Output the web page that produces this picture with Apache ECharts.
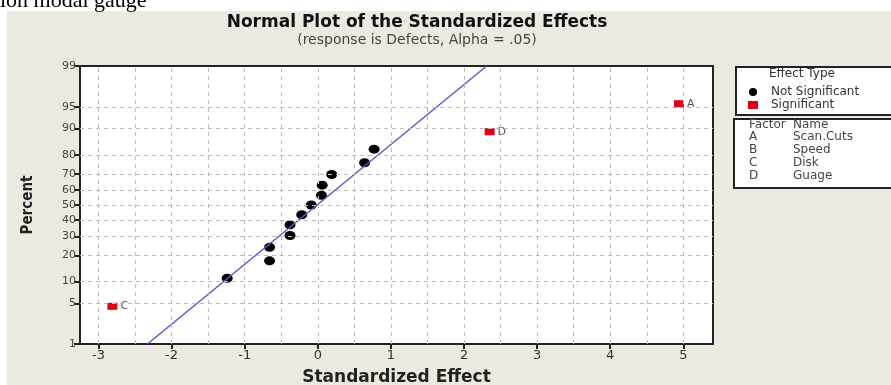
<!DOCTYPE html>
<html>
<head>
<meta charset="utf-8">
<script src="https://cdn.jsdelivr.net/npm/echarts@6/dist/echarts.min.js"></script>
<style>
  html, body { margin: 0; padding: 0; background: #fff; }
  #chart { width: 891px; height: 385px; }
</style>
</head>
<body>
<div id="chart"></div>
<script>
// effects (x = standardized effect, y = percent)
var notSigX = [-1.24, -0.66, -0.66, -0.38, -0.38, -0.22, -0.09, 0.05, 0.06, 0.19, 0.64, 0.77];
var notSigPct = [11.0, 17.5, 24.0, 30.5, 37.0, 43.5, 50.0, 56.5, 63.0, 69.5, 76.0, 82.5];
var sigX = [-2.81, 2.35, 4.94];
var sigPct = [4.5, 89.0, 95.5];
var sigLabels = ['C', 'D', 'A'];
// reference line end points
var lineX = [-2.33, 2.31];
var linePct = [1, 99];
// axis ticks
var xTicks = [-3, -2, -1, 0, 1, 2, 3, 4, 5];
var xGrid = [-3, -2.5, -2, -1.5, -1, -0.5, 0, 0.5, 1, 1.5, 2, 2.5, 3, 3.5, 4, 4.5, 5];
var pctTicks = [1, 5, 10, 20, 30, 40, 50, 60, 70, 80, 90, 95, 99];
// legend table
var factorCodes = ['A', 'B', 'C', 'D'];
var factorNames = ['Scan.Cuts', 'Speed', 'Disk', 'Guage'];

// inverse normal cdf (probability scale for the y axis)
function probit(p) {
  var a = [-3.969683028665376e+01, 2.209460984245205e+02, -2.759285104469687e+02, 1.383577518672690e+02, -3.066479806614716e+01, 2.506628277459239e+00];
  var b = [-5.447609879822406e+01, 1.615858368580409e+02, -1.556989798598866e+02, 6.680131188771972e+01, -1.328068155288572e+01];
  var c = [-7.784894002430293e-03, -3.223964580411365e-01, -2.400758277161838e+00, -2.549732539343734e+00, 4.374664141464968e+00, 2.938163982698783e+00];
  var d = [7.784695709041462e-03, 3.224671290700398e-01, 2.445134137142996e+00, 3.754408661907416e+00];
  var pl = 0.02425, q, r;
  if (p < pl) {
    q = Math.sqrt(-2 * Math.log(p));
    return (((((c[0]*q+c[1])*q+c[2])*q+c[3])*q+c[4])*q+c[5]) / ((((d[0]*q+d[1])*q+d[2])*q+d[3])*q+1);
  }
  if (p > 1 - pl) {
    q = Math.sqrt(-2 * Math.log(1 - p));
    return -(((((c[0]*q+c[1])*q+c[2])*q+c[3])*q+c[4])*q+c[5]) / ((((d[0]*q+d[1])*q+d[2])*q+d[3])*q+1);
  }
  q = p - 0.5; r = q * q;
  return (((((a[0]*r+a[1])*r+a[2])*r+a[3])*r+a[4])*r+a[5])*q / (((((b[0]*r+b[1])*r+b[2])*r+b[3])*r+b[4])*r+1);
}
function z(pct) { return probit(pct / 100); }

var zTicks = pctTicks.map(z);
var yMin = z(1), yMax = z(99);

var myChart = echarts.init(document.getElementById('chart'));

var gridLines = [];
xGrid.forEach(function (v) { gridLines.push({ xAxis: v }); });
zTicks.forEach(function (v) { gridLines.push({ yAxis: v }); });

var smallFont = '12px "DejaVu Sans"';
var graphics = [
  { type: 'rect', left: 0, top: 0, shape: { width: 891, height: 11 }, style: { fill: '#fff' } },
  { type: 'rect', left: 0, top: 0, shape: { width: 7, height: 385 }, style: { fill: '#fff' } },
  { type: 'text', left: 0, top: -10, style: { text: 'ion modal gauge', font: '22px "Liberation Serif"', fill: '#000' } },
  { type: 'rect', left: 735, top: 66, shape: { width: 170, height: 48 }, style: { fill: '#fff', stroke: '#222', lineWidth: 2 } },
  { type: 'rect', left: 733, top: 118, shape: { width: 172, height: 69 }, style: { fill: '#fff', stroke: '#222', lineWidth: 2 } },
  { type: 'text', left: 769, top: 68, style: { text: 'Effect Type', font: smallFont, fill: '#333' } },
  { type: 'text', left: 749, top: 119, style: { text: 'Factor', font: smallFont, fill: '#444' } },
  { type: 'text', left: 793, top: 119, style: { text: 'Name', font: smallFont, fill: '#444' } }
];
factorCodes.forEach(function (code, i) {
  graphics.push({ type: 'text', left: 749, top: 131 + i * 13, style: { text: code, font: smallFont, fill: '#444' } });
  graphics.push({ type: 'text', left: 793, top: 131 + i * 13, style: { text: factorNames[i], font: smallFont, fill: '#444' } });
});

var option = {
  backgroundColor: '#ece9e1',
  animation: false,
  title: {
    text: 'Normal Plot of the Standardized Effects',
    subtext: '(response is Defects, Alpha = .05)',
    left: 412,
    textAlign: 'center',
    top: 9,
    itemGap: 2,
    textStyle: { fontFamily: 'DejaVu Sans', fontWeight: 'bold', fontSize: 17, color: '#111' },
    subtextStyle: { fontFamily: 'DejaVu Sans', fontSize: 14, color: '#444' }
  },
  legend: {
    orient: 'vertical',
    left: 743,
    top: 81,
    itemWidth: 10,
    itemHeight: 8,
    itemGap: 1,
    data: ['Not Significant', 'Significant'],
    textStyle: { fontFamily: 'DejaVu Sans', fontSize: 12, color: '#333', padding: [0, 0, 0, 8] }
  },
  graphic: graphics,
  grid: {
    left: 80, top: 66, right: 178, bottom: 41,
    outerBoundsMode: 'none',
    containLabel: false,
    show: true,
    backgroundColor: '#fff',
    borderColor: '#222',
    borderWidth: 2
  },
  xAxis: {
    type: 'value',
    min: -3.253,
    max: 5.406,
    name: 'Standardized Effect',
    nameLocation: 'middle',
    nameGap: 25,
    nameTextStyle: { fontFamily: 'DejaVu Sans', fontWeight: 'bold', fontSize: 17, color: '#222' },
    axisLine: { show: false, onZero: false },
    axisTick: { show: true, length: 5, customValues: xTicks, lineStyle: { color: '#222', width: 2 } },
    axisLabel: { customValues: xTicks, margin: 5, fontFamily: 'DejaVu Sans', fontSize: 13, color: '#333' },
    splitLine: { show: false }
  },
  yAxis: {
    type: 'value',
    min: yMin,
    max: yMax,
    name: 'Percent',
    nameLocation: 'middle',
    nameGap: 44,
    nameTextStyle: { fontFamily: '"DejaVu Sans Condensed", "DejaVu Sans", sans-serif', fontWeight: 'bold', fontSize: 15, color: '#222' },
    axisLine: { show: false, onZero: false },
    axisTick: { show: true, length: 6, customValues: zTicks, lineStyle: { color: '#222', width: 2 } },
    axisLabel: {
      customValues: zTicks,
      margin: 4,
      fontFamily: 'DejaVu Sans',
      fontSize: 11,
      color: '#444',
      formatter: function (v) {
        for (var i = 0; i < zTicks.length; i++) {
          if (Math.abs(zTicks[i] - v) < 1e-6) return pctTicks[i];
        }
        return '';
      }
    },
    splitLine: { show: false }
  },
  series: [
    {
      name: 'grid',
      type: 'line',
      data: [],
      silent: true,
      markLine: {
        silent: true,
        symbol: 'none',
        label: { show: false },
        lineStyle: { color: '#bcbcbc', type: [4, 4], width: 1 },
        data: gridLines
      }
    },
    {
      name: 'fit',
      type: 'line',
      showSymbol: false,
      silent: true,
      lineStyle: { color: '#5a5ac8', width: 1.5 },
      data: lineX.map(function (x, i) { return [x, z(linePct[i])]; })
    },
    {
      name: 'Not Significant',
      type: 'scatter',
      symbol: 'circle',
      symbolSize: [11, 9],
      itemStyle: { color: '#000', opacity: 1 },
      data: notSigX.map(function (x, i) { return [x, z(notSigPct[i])]; })
    },
    {
      name: 'Significant',
      type: 'scatter',
      symbol: 'rect',
      symbolSize: [10, 7],
      itemStyle: { color: '#e00018', opacity: 1 },
      label: {
        show: true,
        position: 'right',
        distance: 3,
        fontFamily: 'DejaVu Sans',
        fontSize: 11,
        color: '#555',
        formatter: function (p) { return sigLabels[p.dataIndex]; }
      },
      data: sigX.map(function (x, i) { return [x, z(sigPct[i])]; })
    }
  ]
};
myChart.setOption(option);
</script>
</body>
</html>
